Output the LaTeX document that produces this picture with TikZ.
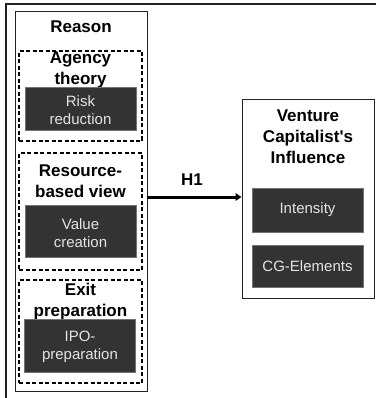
\documentclass[tikz,border=0pt]{standalone}
\usepackage{fontspec}
\setmainfont{Liberation Sans}[Ligatures=TeXOff]
\usetikzlibrary{arrows.meta}
\definecolor{boxfill}{HTML}{333333}
\definecolor{boxtext}{HTML}{E4E4E4}
\definecolor{framecol}{HTML}{222222}

\begin{document}
\begin{tikzpicture}[x=1pt,y=-1pt,
  panel/.style={draw=framecol, line width=0.9pt, inner sep=0pt},
  group/.style={draw=black, line width=1.3pt, dash pattern=on 4pt off 2.5pt, inner sep=0pt},
  darkbox/.style={draw=black!55, fill=boxfill, line width=0.6pt, inner sep=0pt},
  head/.style={font=\fontsize{17}{21}\selectfont\bfseries, align=center, inner sep=0pt},
  boxlabel/.style={font=\fontsize{15}{18}\selectfont, text=boxtext, align=center, inner sep=0pt},
]
\useasboundingbox (0,0) rectangle (377,398);

% outer frame (top and left edges only)
\draw[framecol, line width=1.4pt] (376,4) -- (6,4) -- (6,398);

% left panel: reasons
\node[panel, minimum width=132pt, minimum height=380pt] (reason) at (81,201) {};
\node[head] (reasonT) at (81,27) {Reason};

\node[group, minimum width=123pt, minimum height=90pt] (agency) at (80.5,96) {};
\node[head] (agencyT) at (80.5,70) {Agency\\theory};
\node[darkbox, minimum width=111pt, minimum height=43pt] (risk) at (80.5,108.5) {};
\node[boxlabel] (riskT) at (80.5,110) {Risk\\reduction};

\node[group, minimum width=123pt, minimum height=117pt] (rbv) at (80.5,211.5) {};
\node[head] (rbvT) at (80.5,181) {Resource-\\based view};
\node[darkbox, minimum width=111pt, minimum height=52pt] (value) at (80.5,231) {};
\node[boxlabel] (valueT) at (80.5,233) {Value\\creation};

\node[group, minimum width=123pt, minimum height=103pt] (exit) at (80.5,331.5) {};
\node[head] (exitT) at (80.5,301.5) {Exit\\preparation};
\node[darkbox, minimum width=111pt, minimum height=53pt] (ipo) at (80,345.5) {};
\node[boxlabel] (ipoT) at (80,346.5) {IPO-\\preparation};

% right panel: venture capitalist's influence
\node[panel, minimum width=132pt, minimum height=199pt] (vc) at (308,198.5) {};
\node[head] (vcT) at (308,137) {Venture\\Capitalist's\\Influence};
\node[darkbox, minimum width=111pt, minimum height=44pt] (intensity) at (307.5,210) {};
\node[boxlabel] (intensityT) at (307.5,210) {Intensity};
\node[darkbox, minimum width=111pt, minimum height=42pt] (cg) at (307.5,266) {};
\node[boxlabel] (cgT) at (307.5,266) {CG-Elements};

% hypothesis arrow
\coordinate (h1y) at (0,197);
\draw[line width=3pt, -{Triangle[length=6pt,width=7.5pt]}] (reason.east |- h1y) -- (vc.west |- h1y);
\node[head] (h1) at (192,180) {H1};
\end{tikzpicture}
\end{document}
